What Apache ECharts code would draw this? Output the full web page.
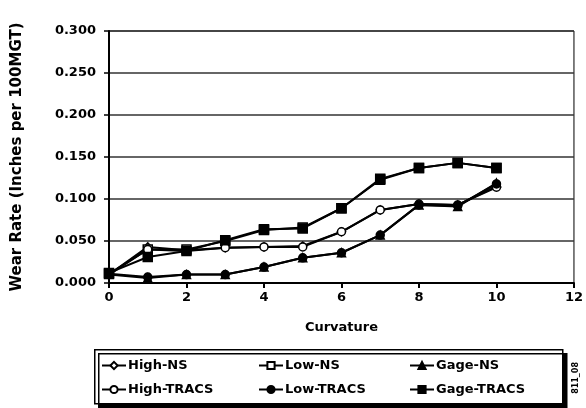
<!DOCTYPE html>
<html><head><meta charset="utf-8">
<script src="https://cdn.jsdelivr.net/npm/echarts@6/dist/echarts.min.js"></script>
<style>html,body{margin:0;padding:0;background:#fff}#c{width:586px;height:408px}</style>
</head><body><div id="c"></div>
<script>
const curvature = [0,1,2,3,4,5,6,7,8,9,10];
const highNS     = [0.010,0.043,0.039,0.042,0.043,0.044,0.061,0.087,0.094,0.093,0.115];
const lowNS      = [0.011,0.040,0.040,0.050,0.063,0.066,0.089,0.123,0.137,0.143,0.137];
const gageNS     = [0.010,0.006,0.010,0.010,0.019,0.030,0.036,0.057,0.093,0.091,0.119];
const highTRACS  = [0.010,0.040,0.038,0.042,0.043,0.043,0.061,0.087,0.094,0.093,0.114];
const lowTRACS   = [0.011,0.007,0.010,0.010,0.019,0.030,0.036,0.057,0.093,0.092,0.118];
const gageTRACS  = [0.012,0.031,0.038,0.051,0.064,0.065,0.089,0.124,0.137,0.143,0.137];
const yTicks = ['0.000','0.050','0.100','0.150','0.200','0.250','0.300'];
const seriesNames = ['High-NS','Low-NS','Gage-NS','High-TRACS','Low-TRACS','Gage-TRACS'];
const seriesData = [highNS, lowNS, gageNS, highTRACS, lowTRACS, gageTRACS];
const symbols = ['diamond','rect','triangle','circle','circle','rect'];
const filled = [false,false,true,false,true,true];

const font = 'DejaVu Sans';
const chart = echarts.init(document.getElementById('c'));
const series = seriesNames.map((n,i)=>({
  name:n, type:'line',
  data: curvature.map((c,j)=>[c, seriesData[i][j]]),
  symbol: symbols[i], symbolSize: symbols[i]==='rect'?9:8,
  lineStyle:{color:'#000', width:2},
  itemStyle:{color: filled[i]?'#000':'#fff', borderColor:'#000', borderWidth:1.5},
  z: 2+i
}));
const legendCol = (names, left) => ({
  data: names, orient:'vertical', left: left, top: 359, itemGap: 11,
  itemWidth: 24, itemHeight: 9, padding: 0,
  textStyle:{fontFamily:font, fontWeight:'bold', fontSize:13, color:'#000', padding:[0,0,0,-3]}
});
chart.setOption({
  animation:false,
  backgroundColor:'#fff',
  grid:{left:109, right:12, top:31, bottom:125, show:true, borderColor:'#000', borderWidth:1},
  xAxis:{type:'value', min:0, max:12, interval:2,
    name:'Curvature', nameLocation:'middle', nameGap:38,
    nameTextStyle:{fontFamily:font, fontWeight:'bold', fontSize:13, color:'#000'},
    axisLine:{lineStyle:{color:'#000', width:2}},
    axisTick:{show:true, inside:false, length:5, lineStyle:{color:'#000', width:2}},
    axisLabel:{fontFamily:font, fontWeight:'bold', fontSize:13, color:'#000', margin:8},
    splitLine:{show:false}},
  yAxis:{type:'value', min:0, max:0.3, interval:0.05,
    name:'Wear Rate (Inches per 100MGT)', nameLocation:'middle', nameGap:84, nameRotate:90,
    nameTextStyle:{fontFamily:font, fontWeight:'bold', fontSize:15, color:'#000'},
    axisLine:{show:true, lineStyle:{color:'#000', width:2}},
    axisTick:{show:true, length:5, lineStyle:{color:'#000', width:1.5}},
    axisLabel:{fontFamily:font, fontWeight:'bold', fontSize:13, color:'#000', margin:13,
      formatter:(v)=>yTicks[Math.round(v/0.05)]},
    splitLine:{show:true, lineStyle:{color:'#333', width:1.5}}},
  legend:[
    legendCol(['High-NS','High-TRACS'], 101),
    legendCol(['Low-NS','Low-TRACS'], 258),
    legendCol(['Gage-NS','Gage-TRACS'], 409)
  ],
  graphic:[
    {type:'rect', left:94, top:349, shape:{width:468, height:54},
      style:{fill:'#fff', stroke:'#000', lineWidth:1.5, shadowColor:'#000', shadowOffsetX:4, shadowOffsetY:4, shadowBlur:0}, z:-1},
    {type:'text', left:572, top:362, rotation:Math.PI/2,
      style:{text:'811_08', fontFamily:font, fontSize:8, fontWeight:'bold', fill:'#000'}}
  ],
  series: series
});
</script></body></html>
